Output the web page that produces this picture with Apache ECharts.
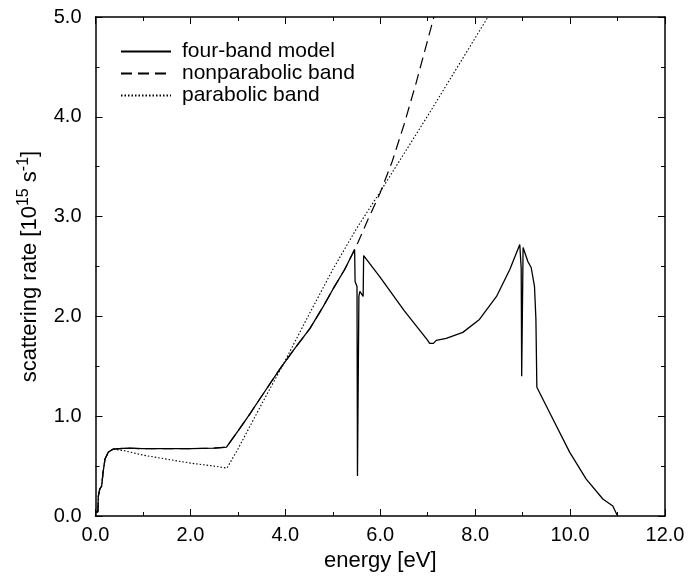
<!DOCTYPE html>
<html>
<head>
<meta charset="utf-8">
<script src="https://cdn.jsdelivr.net/npm/echarts@6/dist/echarts.min.js"></script>
<style>
  html, body { margin: 0; padding: 0; background: #fff; }
  #chart { width: 688px; height: 579px; }
</style>
</head>
<body>
<div id="chart"></div>
<script>
// ---- data (energy in eV, scattering rate in 1e15 s^-1) ----
const fourBandE = [0.0, 0.05, 0.06, 0.09, 0.13, 0.16, 0.2, 0.27, 0.37, 0.66, 1.0, 1.5, 2.0, 2.5, 2.76,
  3.0, 3.25, 3.5, 3.88, 4.2, 4.52, 4.8, 5.0, 5.25, 5.46, 5.47, 5.51, 5.52, 5.54, 5.55, 5.57, 5.64, 5.65, 5.67,
  6.0, 6.5, 7.0, 7.04, 7.08, 7.12, 7.18, 7.39, 7.74, 8.09, 8.45, 8.73, 8.94, 8.97, 8.98, 9.0, 9.01,
  9.11, 9.18, 9.25, 9.28, 9.30, 9.64, 9.99, 10.34, 10.69, 10.9, 10.99];
const fourBandRate = [0.04, 0.04, 0.2, 0.27, 0.3, 0.44, 0.57, 0.64, 0.67, 0.68, 0.675, 0.675, 0.675, 0.68, 0.69,
  0.85, 1.02, 1.2, 1.47, 1.68, 1.88, 2.1, 2.27, 2.47, 2.67, 2.35, 2.3, 0.4, 0.38, 2.2, 2.25, 2.2, 2.61, 2.6,
  2.39, 2.06, 1.76, 1.73, 1.745, 1.73, 1.76, 1.78, 1.84, 1.97, 2.2, 2.47, 2.72, 2.48, 1.40, 1.40, 2.69,
  2.55, 2.49, 2.30, 1.97, 1.29, 0.97, 0.64, 0.37, 0.17, 0.10, 0.01];

const nonparE = [0.0, 0.05, 0.06, 0.09, 0.13, 0.16, 0.2, 0.27, 0.37, 0.66, 1.0, 1.5, 2.0, 2.5, 2.76,
  3.0, 3.25, 3.5, 3.88, 4.2, 4.52, 4.8, 5.0, 5.25, 5.46, 5.53, 5.75, 6.0, 6.25, 6.5, 6.75, 7.0, 7.13];
const nonparRate = [0.04, 0.04, 0.2, 0.27, 0.3, 0.44, 0.57, 0.64, 0.67, 0.68, 0.675, 0.675, 0.675, 0.68, 0.69,
  0.85, 1.02, 1.2, 1.47, 1.68, 1.88, 2.1, 2.27, 2.47, 2.67, 2.74, 2.98, 3.24, 3.55, 3.92, 4.33, 4.77, 5.0];

const parE = [0.0, 0.05, 0.06, 0.09, 0.13, 0.16, 0.2, 0.27, 0.37, 0.6, 1.0, 1.5, 2.0, 2.5, 2.77,
  3.0, 3.5, 4.0, 4.5, 5.0, 5.5, 6.0, 6.5, 7.0, 7.5, 8.0, 8.27];
const parRate = [0.04, 0.04, 0.2, 0.27, 0.3, 0.44, 0.57, 0.64, 0.67, 0.655, 0.61, 0.57, 0.53, 0.5, 0.48,
  0.67, 1.12, 1.56, 2.02, 2.47, 2.88, 3.25, 3.63, 4.01, 4.4, 4.79, 5.0];

const seriesNames = ['four-band model', 'nonparabolic band', 'parabolic band'];
const xTicks = { min: 0, max: 12, interval: 2 };
const yTicks = { min: 0, max: 5, interval: 1 };

function zip(a, b) { return a.map((v, i) => [v, b[i]]); }

const FONT = 'Liberation Sans, Arial, Helvetica, sans-serif';
const chart = echarts.init(document.getElementById('chart'), null, { renderer: 'canvas' });

const axisLine = { show: true, onZero: false, lineStyle: { color: '#000', width: 1.5 } };
const tick = { show: true, inside: true, length: 7, lineStyle: { color: '#000', width: 1 } };
const minor = { show: true, splitNumber: 2, length: 4, lineStyle: { color: '#000', width: 1 } };
const fmt = v => v.toFixed(1);

chart.setOption({
  backgroundColor: '#fff',
  animation: false,
  grid: { left: 95.5, right: 23, top: 17, bottom: 63, containLabel: false },
  legend: {
    orient: 'vertical', left: 120, top: 41, padding: 0, itemWidth: 50, itemHeight: 14, itemGap: 1,
    itemStyle: { opacity: 0 },
    textStyle: { fontSize: 21, lineHeight: 20, color: '#000', fontFamily: FONT, padding: [0, 0, 0, 6] },
    data: seriesNames
  },
  xAxis: [{
    type: 'value', position: 'bottom', min: xTicks.min, max: xTicks.max, interval: xTicks.interval,
    name: 'energy [eV]', nameLocation: 'middle', nameGap: 25,
    nameTextStyle: { fontSize: 22, color: '#000', fontFamily: FONT },
    axisLine: axisLine, axisTick: tick, minorTick: minor,
    axisLabel: { fontSize: 20, color: '#000', fontFamily: FONT, margin: 9, formatter: fmt },
    splitLine: { show: false }
  }, {
    type: 'value', position: 'top', min: xTicks.min, max: xTicks.max, interval: xTicks.interval,
    axisLine: axisLine, axisTick: tick, minorTick: minor,
    axisLabel: { show: false }, splitLine: { show: false }
  }],
  yAxis: [{
    type: 'value', position: 'left', min: yTicks.min, max: yTicks.max, interval: yTicks.interval,
    name: 'scattering rate [10{sup|15} s{sup|-1}]', nameLocation: 'middle', nameGap: 47, nameRotate: 90,
    nameTextStyle: {
      fontSize: 22, color: '#000', fontFamily: FONT, lineHeight: 26,
      rich: { sup: { fontSize: 16, color: '#000', fontFamily: FONT, padding: [0, 0, 12, 0] } }
    },
    axisLine: axisLine, axisTick: tick, minorTick: minor,
    axisLabel: { fontSize: 20, color: '#000', fontFamily: FONT, margin: 14, formatter: fmt },
    splitLine: { show: false }
  }, {
    type: 'value', position: 'right', min: yTicks.min, max: yTicks.max, interval: yTicks.interval,
    axisLine: axisLine, axisTick: tick, minorTick: minor,
    axisLabel: { show: false }, splitLine: { show: false }
  }],
  series: [{
    name: seriesNames[0], type: 'line', data: zip(fourBandE, fourBandRate), symbol: 'none', clip: true,
    lineStyle: { color: '#000', width: 1.3, type: 'solid' }, itemStyle: { color: '#000' }, z: 3
  }, {
    name: seriesNames[1], type: 'line', data: zip(nonparE, nonparRate), symbol: 'none', clip: true,
    lineStyle: { color: '#000', width: 1.2, type: [11, 6] }, itemStyle: { color: '#000' }, z: 2
  }, {
    name: seriesNames[2], type: 'line', data: zip(parE, parRate), symbol: 'none', clip: true,
    lineStyle: { color: '#000', width: 1.1, type: [1.5, 2] }, itemStyle: { color: '#000' }, z: 2
  }]
});
</script>
</body>
</html>
